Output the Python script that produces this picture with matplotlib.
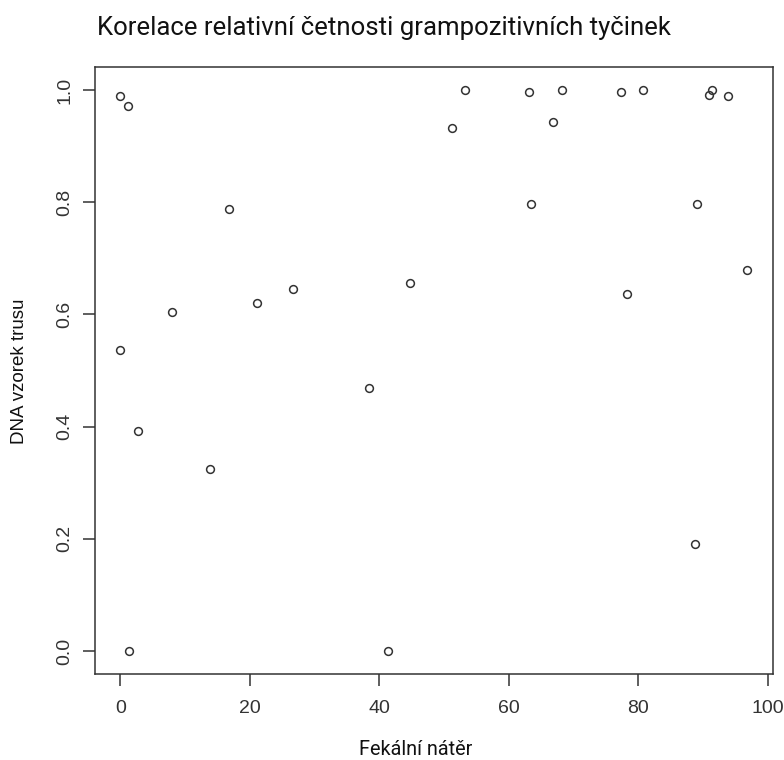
import matplotlib
matplotlib.use("Agg")
import matplotlib.pyplot as plt

# fekalni nater (x) vs DNA vzorek trusu (y)
fekalni = [0.0, 1.2, 16.8, 26.7, 21.1, 8.0, 0.0, 2.8, 13.9, 1.3,
           53.3, 63.1, 51.2, 63.4, 44.8, 68.2, 77.4, 80.8, 91.4, 91.0,
           93.9, 66.8, 89.1, 96.8, 78.3, 38.4, 41.4, 88.8]
dna = [0.989, 0.971, 0.787, 0.645, 0.621, 0.604, 0.537, 0.393, 0.325, 0.0,
       1.0, 0.997, 0.932, 0.796, 0.656, 1.0, 0.997, 1.0, 1.0, 0.991,
       0.989, 0.943, 0.796, 0.680, 0.636, 0.468, 0.0, 0.190]

xticks = [0, 20, 40, 60, 80, 100]
yticks = [0.0, 0.2, 0.4, 0.6, 0.8, 1.0]
ytick_labels = ["0.0", "0.2", "0.4", "0.6", "0.8", "1.0"]

W, H = 784, 760
fig = plt.figure(figsize=(W / 100, H / 100), dpi=100)
ax = fig.add_axes([95 / W, 1 - 674 / H, (772.7 - 95) / W, (674 - 66.7) / H])

grey = "#333333"
ax.plot(fekalni, dna, linestyle="none", marker="o", markersize=5.6,
        markerfacecolor="none", markeredgecolor=grey, markeredgewidth=1.1)

# R style: 4% padding on both axes
ax.set_xlim(-3.9, 100.8)
ax.set_ylim(-0.041, 1.0415)

ax.set_xticks(xticks)
ax.set_yticks(yticks)
ax.set_yticklabels(ytick_labels)
for s in ax.spines.values():
    s.set_color(grey)
    s.set_linewidth(1.1)

ax.tick_params(axis="both", direction="out", length=8.5, width=1.1,
               color=grey, labelcolor=grey, labelsize=14,
               labelfontfamily="Liberation Sans")
ax.tick_params(axis="x", pad=10)
ax.tick_params(axis="y", pad=7, labelrotation=90)
for lab in ax.get_yticklabels():
    lab.set_va("center")

# title and labels placed where the reference has them
fig.text(96.7 / W, 1 - 35 / H, "Korelace relativní četnosti grampozitivních tyčinek",
         family="Roboto", fontsize=18.5, color="#111111",
         ha="left", va="baseline")
fig.text(416 / W, 1 - 755 / H, "Fekální nátěr", family="Roboto",
         fontsize=14.3, color="#111111", ha="center", va="baseline")
fig.text(20 / W, 1 - 371 / H, "DNA vzorek trusu", family="Liberation Sans",
         fontsize=13.5, color="#111111", rotation=90, ha="center", va="center")

fig.savefig("out.png", dpi=100)
